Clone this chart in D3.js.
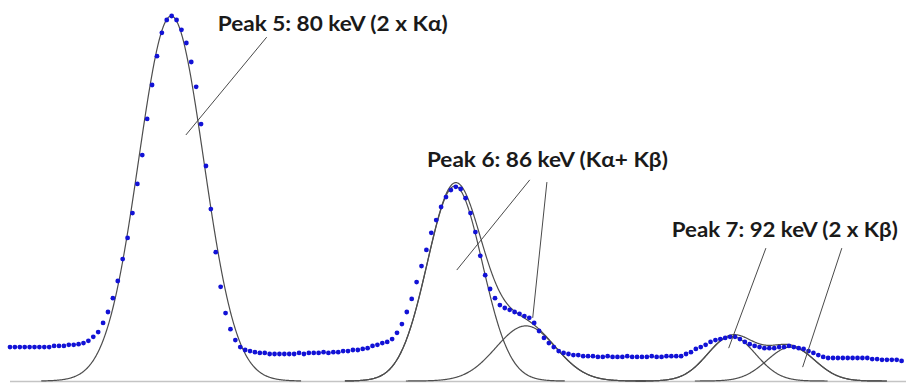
<!DOCTYPE html>
<html>
<head>
<meta charset="utf-8">
<script src="https://cdn.jsdelivr.net/npm/d3@7"></script>
<style>
  html, body { margin: 0; padding: 0; background: #ffffff; }
  svg { display: block; }
</style>
</head>
<body>
<svg id="chart" width="906" height="383"></svg>
<script>
// Measured spectrum: counts per channel (one dot per channel)
const counts = [
  93, 93, 93, 93, 93, 93, 93, 93, 93, 96,
  96, 96, 99, 99, 101, 104, 110, 121, 134, 159,
  189, 227, 274, 334, 392, 460, 540, 619, 718, 811,
  890, 954, 989, 1000, 989, 962, 926, 874, 806, 704,
  589, 471, 353, 258, 186, 142, 112, 93, 85, 82,
  79, 77, 77, 74, 74, 74, 74, 74, 74, 77,
  74, 77, 77, 77, 79, 77, 79, 79, 82, 82,
  85, 85, 88, 90, 96, 99, 104, 107, 115, 132,
  156, 189, 225, 271, 315, 359, 406, 441, 477, 504,
  523, 532, 526, 501, 460, 408, 343, 290, 252, 227,
  208, 200, 195, 189, 184, 178, 173, 159, 137, 118,
  104, 93, 82, 77, 74, 71, 71, 68, 68, 68,
  66, 66, 68, 66, 66, 66, 68, 66, 66, 66,
  66, 68, 66, 66, 68, 68, 68, 68, 74, 79,
  88, 93, 99, 107, 112, 115, 118, 121, 121, 115,
  107, 101, 96, 93, 90, 90, 90, 93, 93, 96,
  93, 90, 88, 82, 77, 71, 66, 63, 63, 63,
  63, 63, 63, 63, 63, 63, 60, 60, 58, 58,
  58, 58, 55
];

// Fitted Gaussian components (channel units / counts)
const fitGroups   = [5, 6, 6, 7, 7];
const fitCenters  = [32.9, 90.8, 105.3, 147.3, 159.4];
const fitHeights  = [1000, 534, 151, 122, 93];
const fitSigmas   = [6.63, 5.61, 6.12, 4.9, 4.9];

// Peak labels
const peakLabels = [
  "Peak 5: 80 keV (2 x Kα)",
  "Peak 6: 86 keV (Kα+ Kβ)",
  "Peak 7: 92 keV (2 x Kβ)"
];

const svg = d3.select("#chart");
const W = 906, H = 383;

const x = d3.scaleLinear().domain([0, 182.9]).range([10, 906]);
const y = d3.scaleLinear().domain([0, 1000]).range([381, 16]);

// Horizontal axis line
svg.append("line")
  .attr("x1", x(0)).attr("x2", x(182.9))
  .attr("y1", y(0) + 0.5).attr("y2", y(0) + 0.5)
  .attr("stroke", "#c4c4c4")
  .attr("stroke-width", 1.5);

const gauss = (c, h, s) => t => h * Math.exp(-((t - c) * (t - c)) / (2 * s * s));

const line = d3.line()
  .x(d => x(d[0]))
  .y(d => y(d[1]))
  .curve(d3.curveLinear);

const fitLayer = svg.append("g")
  .attr("fill", "none")
  .attr("stroke", "#4d4d4d")
  .attr("stroke-width", 1.2);

const xmin = 0, xmax = 182.9;
const span = (c, s) => [Math.max(xmin, c - 4 * s), Math.min(xmax, c + 4 * s)];

// individual components
fitCenters.forEach((c, k) => {
  const f = gauss(c, fitHeights[k], fitSigmas[k]);
  const [a, b] = span(c, fitSigmas[k]);
  const pts = d3.range(a, b, 0.1).concat([b]).map(t => [t, f(t)]);
  fitLayer.append("path").attr("d", line(pts));
});

// summed envelope of each multi-component peak
d3.groups(d3.range(fitCenters.length), k => fitGroups[k])
  .filter(([, ks]) => ks.length > 1)
  .forEach(([, ks]) => {
    const fs = ks.map(k => gauss(fitCenters[k], fitHeights[k], fitSigmas[k]));
    const a = d3.min(ks, k => span(fitCenters[k], fitSigmas[k])[0]);
    const b = d3.max(ks, k => span(fitCenters[k], fitSigmas[k])[1]);
    const pts = d3.range(a, b, 0.1).concat([b]).map(t => [t, d3.sum(fs, f => f(t))]);
    fitLayer.append("path").attr("d", line(pts));
  });

// measured data points
svg.append("g")
  .attr("fill", "#1212d6")
  .selectAll("circle")
  .data(counts)
  .join("circle")
  .attr("cx", (d, i) => x(i))
  .attr("cy", d => y(d))
  .attr("r", 2.4);

// leader lines from each label to its components (channel, counts)
const leaders = [
  [[52.4, 942], [35.9, 674]],
  [[106.1, 551], [91.2, 304]],
  [[109.6, 545], [106.7, 173]],
  [[154.3, 364], [146.7, 90]],
  [[169.8, 364], [161.8, 38]]
];
svg.append("g")
  .attr("stroke", "#4a4a4a")
  .attr("stroke-width", 1)
  .selectAll("line")
  .data(leaders)
  .join("line")
  .attr("x1", d => x(d[0][0])).attr("y1", d => y(d[0][1]))
  .attr("x2", d => x(d[1][0])).attr("y2", d => y(d[1][1]));

// label anchors (channel, counts) and rendered widths
const labelPos = [
  { t: 42.4, v: 959, w: 230 },
  { t: 85.1, v: 586, w: 241 },
  { t: 135.1, v: 395, w: 226 }
];
svg.append("g")
  .selectAll("text")
  .data(peakLabels)
  .join("text")
  .attr("x", (d, i) => x(labelPos[i].t))
  .attr("y", (d, i) => y(labelPos[i].v))
  .attr("textLength", (d, i) => labelPos[i].w)
  .attr("lengthAdjust", "spacingAndGlyphs")
  .attr("font-family", "Lato, 'Open Sans', sans-serif")
  .attr("font-weight", 700)
  .attr("font-size", 21)
  .attr("fill", "#1a1a1a")
  .text(d => d);
</script>
</body>
</html>
